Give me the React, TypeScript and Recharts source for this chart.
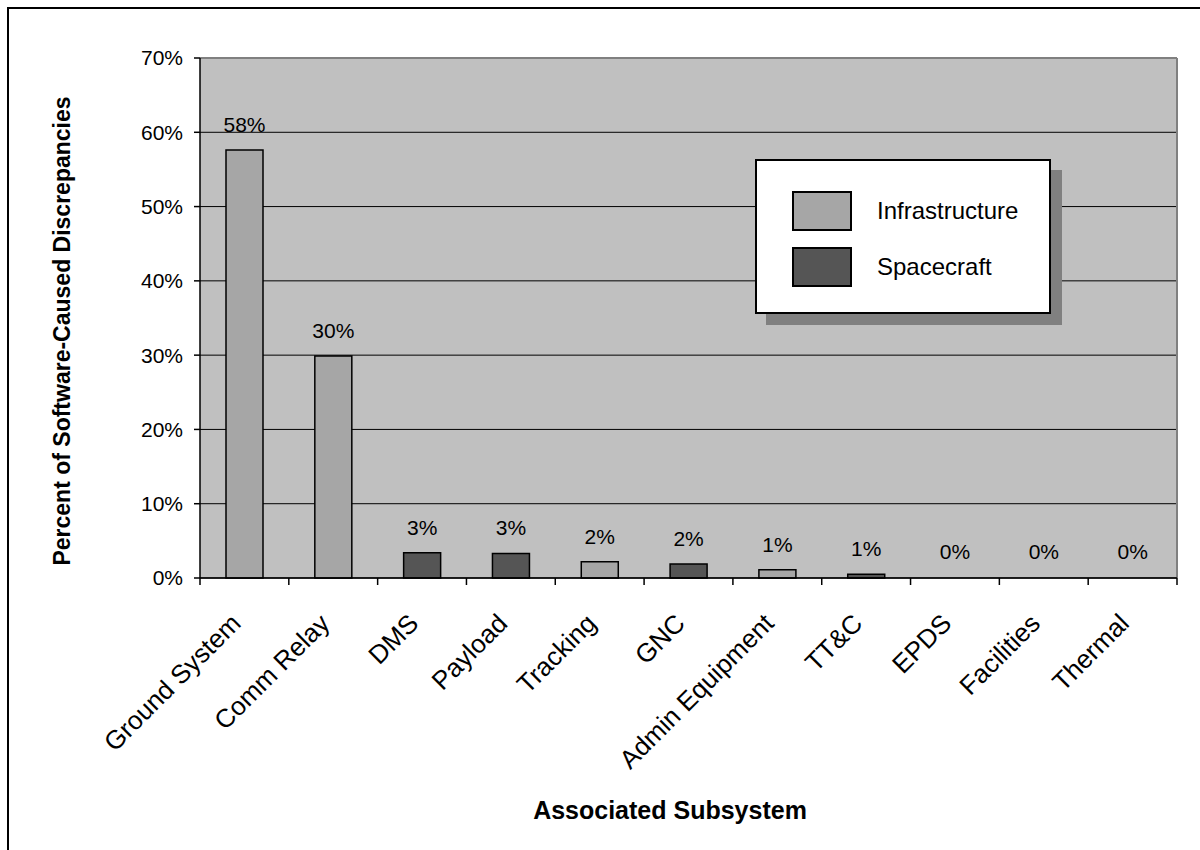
import React from 'react';
import { BarChart, Bar, XAxis, YAxis, CartesianGrid, Legend, LabelList, Label, ReferenceLine } from 'recharts';

const categories = ['Ground System', 'Comm Relay', 'DMS', 'Payload', 'Tracking', 'GNC', 'Admin Equipment', 'TT&C', 'EPDS', 'Facilities', 'Thermal'];
const infrastructure = [57.6, 29.9, 0, 0, 2.2, 0, 1.1, 0, 0, 0, 0];
const spacecraft = [0, 0, 3.4, 3.3, 0, 1.9, 0, 0.5, 0, 0, 0];
const yTicks = [0, 10, 20, 30, 40, 50, 60, 70];
const seriesKeys = ['infrastructure', 'spacecraft'];
const seriesNames = ['Infrastructure', 'Spacecraft'];
const seriesColors = ['#A6A6A6', '#555555'];
const yTitle = 'Percent of Software-Caused Discrepancies';
const xTitle = 'Associated Subsystem';

const data = categories.map((name, i) => ({
  name,
  infrastructure: infrastructure[i],
  spacecraft: spacecraft[i],
  total: infrastructure[i] + spacecraft[i],
}));

const FONT = '"Liberation Sans", Arial, sans-serif';
const CHART_W = 1180;
const CHART_H = 840;
const MARGIN = { top: 49, right: 12, bottom: 0, left: 0 };
const Y_AXIS_W = 191;
const X_AXIS_H = 271;
const BAR_W = 37;
const PLOT_W = CHART_W - MARGIN.left - MARGIN.right - Y_AXIS_W;
const BAND = PLOT_W / categories.length;

function CategoryTick(props: any) {
  const { x, y, payload, index } = props;
  const ax = x - 2;
  const ay = y + 47;
  return (
    <g>
      <line x1={x - BAND / 2} x2={x - BAND / 2} y1={y} y2={y + 7} stroke="#000" strokeWidth={1.5} />
      {index === categories.length - 1 && (
        <line x1={x + BAND / 2} x2={x + BAND / 2} y1={y} y2={y + 7} stroke="#000" strokeWidth={1.5} />
      )}
      <text x={ax} y={ay} transform={`rotate(-45 ${ax} ${ay})`} textAnchor="end" fontSize={26} fontFamily={FONT} fill="#000">
        {payload.value}
      </text>
    </g>
  );
}

function ValueLabel(props: any) {
  const vb = props.viewBox || props;
  const x = vb.x + vb.width / 2;
  const top = Math.min(vb.y, vb.y + vb.height);
  const v = Number(props.value);
  if (!isFinite(v)) return null;
  return (
    <text x={x} y={top - 18} textAnchor="middle" fontSize={21} fontFamily={FONT} fill="#000">
      {Math.round(v) + '%'}
    </text>
  );
}

function LegendBox() {
  return (
    <div
      style={{
        width: 296,
        height: 155,
        boxSizing: 'border-box',
        background: '#fff',
        border: '2px solid #000',
        boxShadow: '11px 11px 0 #808080',
        position: 'relative',
        fontFamily: FONT,
        fontSize: 24,
        color: '#000',
      }}
    >
      {seriesNames.map((n, i) => (
        <div key={n} style={{ position: 'absolute', left: 35, top: 30 + i * 56, display: 'flex', alignItems: 'center', height: 40 }}>
          <div style={{ width: 60, height: 40, boxSizing: 'border-box', border: '2px solid #000', background: seriesColors[i] }} />
          <span style={{ marginLeft: 25, whiteSpace: 'nowrap' }}>{n}</span>
        </div>
      ))}
    </div>
  );
}

export default function App() {
  return (
    <div
      style={{
        position: 'absolute',
        left: 7,
        top: 7,
        width: 1193,
        height: 843,
        boxSizing: 'border-box',
        borderLeft: '2px solid #000',
        borderTop: '2px solid #000',
        overflow: 'hidden',
        background: '#fff',
      }}
    >
      <BarChart width={CHART_W} height={CHART_H} data={data} margin={MARGIN} barSize={BAR_W} barGap={-BAR_W}>
        <CartesianGrid vertical={false} stroke="#000" strokeWidth={1} fill="#C0C0C0" fillOpacity={1} />
        <XAxis
          dataKey="name"
          height={X_AXIS_H}
          interval={0}
          tickLine={false}
          tickSize={0}
          tickMargin={0}
          axisLine={{ stroke: '#000', strokeWidth: 1.5 }}
          tick={<CategoryTick />}
        >
          <Label
            content={() => (
              <text x={661} y={810} textAnchor="middle" fontSize={25} fontWeight="bold" fontFamily={FONT} fill="#000">
                {xTitle}
              </text>
            )}
          />
        </XAxis>
        <YAxis
          width={Y_AXIS_W}
          domain={[0, 70]}
          ticks={yTicks}
          interval={0}
          tickFormatter={(v: number) => `${v}%`}
          tickSize={6}
          tickMargin={11}
          axisLine={{ stroke: '#000', strokeWidth: 1.5 }}
          tickLine={{ stroke: '#000', strokeWidth: 1.5 }}
          tick={{ fontSize: 21, fill: '#000', fontFamily: FONT }}
        >
          <Label
            content={() => (
              <text
                x={61}
                y={322}
                transform="rotate(-90 61 322)"
                textAnchor="middle"
                fontSize={23}
                fontWeight="bold"
                fontFamily={FONT}
                fill="#000"
              >
                {yTitle}
              </text>
            )}
          />
        </YAxis>
        <ReferenceLine y={70} stroke="#808080" strokeWidth={2} ifOverflow="visible" />
        <ReferenceLine x="Thermal" position="end" stroke="#808080" strokeWidth={2} ifOverflow="visible" />
        {seriesKeys.map((k, i) => (
          <Bar
            key={k}
            dataKey={k}
            name={seriesNames[i]}
            fill={seriesColors[i]}
            stroke="#000"
            strokeWidth={1.5}
            isAnimationActive={false}
          />
        ))}
        <Bar
          dataKey="total"
          name="total"
          fill="transparent"
          stroke="none"
          minPointSize={1}
          legendType="none"
          isAnimationActive={false}
        >
          <LabelList dataKey="total" content={<ValueLabel />} />
        </Bar>
        <Legend
          layout="vertical"
          align="center"
          verticalAlign="middle"
          wrapperStyle={{ position: 'absolute', left: 746, top: 150, width: 296, height: 155 }}
          content={() => <LegendBox />}
        />
      </BarChart>
    </div>
  );
}
